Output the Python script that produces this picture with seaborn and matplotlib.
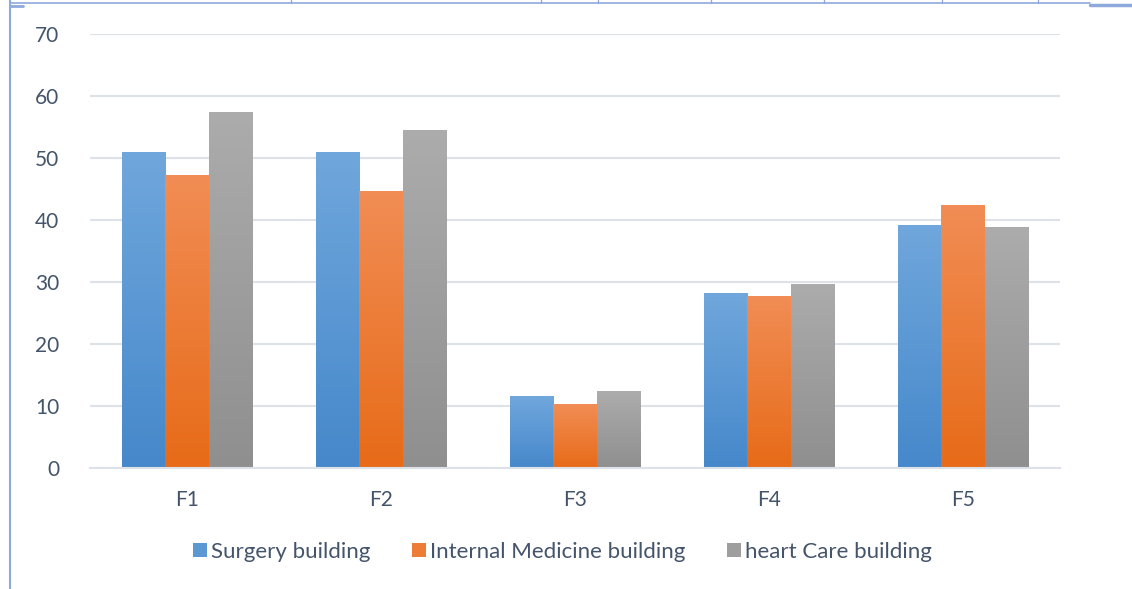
import numpy as np
import pandas as pd
import matplotlib
matplotlib.use("Agg")
import matplotlib.pyplot as plt
import matplotlib.colors as mcolors
from matplotlib.lines import Line2D
import seaborn as sns

# Data
categories = ["F1", "F2", "F3", "F4", "F5"]
surgery = [51.0, 51.0, 11.6, 28.2, 39.2]
internal_medicine = [47.3, 44.7, 10.3, 27.7, 42.4]
heart_care = [57.4, 54.5, 12.4, 29.7, 38.9]
series_names = ["Surgery building", "Internal Medicine building", "heart Care building"]

# Vertical gradient colours (top, bottom) per series
gradients = [("#70A7DC", "#4688CB"), ("#F18D55", "#E76B18"), ("#ACACAC", "#8F8F8F")]
text_color = "#44546A"
grid_color = "#DDE2E9"
border_color = "#8EA9DB"

df = pd.DataFrame({
    "category": categories * 3,
    "value": surgery + internal_medicine + heart_care,
    "series": [s for s in series_names for _ in categories],
})

sns.set_theme(style="white")
plt.rcParams["font.family"] = ["Lato", "DejaVu Sans"]

fig = plt.figure(figsize=(11.32, 5.89), dpi=100)
ax = fig.add_axes([90 / 1132, 1 - 468 / 589, 970 / 1132, 434 / 589])

sns.barplot(data=df, x="category", y="value", hue="series",
            palette=[g[1] for g in gradients], width=0.67, gap=0,
            linewidth=0, ax=ax, legend=False, saturation=1)

ax.set_ylim(0, 70)
ax.set_xlim(-0.5, 4.5)
ax.set_yticks(range(0, 71, 10))
ax.yaxis.grid(True, color=grid_color, linewidth=1.5)
ax.set_axisbelow(True)
for s in ["top", "right", "left"]:
    ax.spines[s].set_visible(False)
ax.spines["bottom"].set_color(grid_color)
ax.spines["bottom"].set_linewidth(1.5)
ax.tick_params(axis="both", length=0, labelsize=15, colors=text_color)
ax.tick_params(axis="y", pad=22)
ax.tick_params(axis="x", pad=16)
ax.set_xlabel("")
ax.set_ylabel("")

# Replace flat fills with vertical gradients clipped to each bar
grad = np.linspace(0, 1, 256).reshape(-1, 1)
for i, container in enumerate(ax.containers):
    top, bottom = gradients[i]
    cmap = mcolors.LinearSegmentedColormap.from_list(f"g{i}", [bottom, top])
    for bar in container:
        x0, y0 = bar.get_x(), bar.get_y()
        w, h = bar.get_width(), bar.get_height()
        bar.set_facecolor("none")
        im = ax.imshow(grad, cmap=cmap, aspect="auto", origin="lower",
                       extent=(x0, x0 + w, y0, y0 + h), zorder=2,
                       interpolation="bilinear")
        im.set_clip_path(bar)
ax.set_xlim(-0.5, 4.5)
ax.set_ylim(0, 70)

# Legend swatches
handles = [Line2D([0], [0], marker="s", linestyle="none", markersize=10.5,
                  markerfacecolor=mcolors.to_hex(np.mean([mcolors.to_rgb(g[0]), mcolors.to_rgb(g[1])], axis=0)),
                  markeredgewidth=0) for g in gradients]
leg = fig.legend(handles, series_names, loc="center", ncol=3,
                 bbox_to_anchor=(562 / 1132, 1 - 552 / 589), frameon=False,
                 fontsize=16, handletextpad=0.15, columnspacing=1.85,
                 handlelength=0.7)
for t in leg.get_texts():
    t.set_color(text_color)

# Surrounding document border lines
fig.add_artist(Line2D([10 / 1132, 1090 / 1132], [1 - 3 / 589] * 2, color=border_color, lw=1.2))
fig.add_artist(Line2D([1090 / 1132, 1.0], [1 - 5 / 589] * 2, color=border_color, lw=2.5))
fig.add_artist(Line2D([10 / 1132] * 2, [0, 1], color=border_color, lw=1.5))
fig.add_artist(Line2D([10 / 1132, 23 / 1132], [1 - 6 / 589] * 2, color=border_color, lw=2.0))
for xp in [291, 541, 598, 711, 824, 942, 1038]:
    fig.add_artist(Line2D([xp / 1132] * 2, [1 - 3 / 589, 1.0], color=border_color, lw=1.0))

fig.savefig("out.png", dpi=100, facecolor="white")
